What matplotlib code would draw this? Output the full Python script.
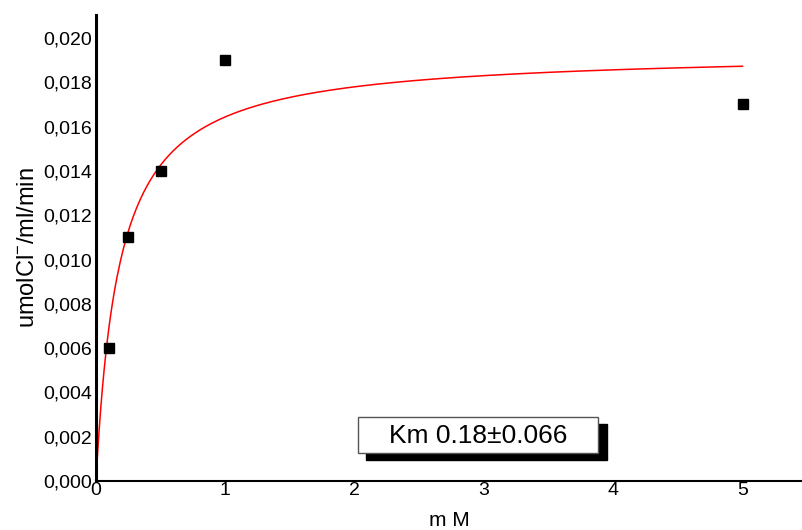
import numpy as np
import matplotlib
matplotlib.use("Agg")
import matplotlib.pyplot as plt
from matplotlib.patches import Rectangle

plt.rcParams['font.family'] = ['Liberation Sans', 'DejaVu Sans']
plt.rcParams['mathtext.fontset'] = 'custom'
plt.rcParams['mathtext.rm'] = 'Liberation Sans'
plt.rcParams['mathtext.default'] = 'regular'

# Data
conc_mM = [0.1, 0.25, 0.5, 1.0, 5.0]
rate = [0.006, 0.011, 0.014, 0.019, 0.017]
vmax = 0.0194
km = 0.18
km_err = 0.066
y_ticks = [0.000, 0.002, 0.004, 0.006, 0.008, 0.010, 0.012, 0.014, 0.016, 0.018, 0.020]
x_ticks = [0, 1, 2, 3, 4, 5]

W, H = 802, 530
fig = plt.figure(figsize=(W / 100, H / 100), dpi=100)
ax = fig.add_axes([96 / W, 1 - 481 / H, (W - 96) / W, (481 - 15) / H])

xc = np.linspace(0, 5, 400)
ax.plot(xc, vmax * xc / (km + xc), color='#ff0000', lw=1.1, zorder=2)
ax.plot(conc_mM, rate, ls='none', marker='s', ms=7.5, color='black', zorder=3)

ax.set_xlim(0, (W - 96) / 129.3)
ax.set_ylim(0, 0.02104)
ax.set_xticks(x_ticks)
ax.set_xticklabels([str(t) for t in x_ticks])
ax.set_yticks(y_ticks)
ax.set_yticklabels([f"{v:.3f}".replace('.', ',') for v in y_ticks])
ax.tick_params(axis='both', length=0, labelsize=14)
ax.tick_params(axis='y', pad=3)
ax.tick_params(axis='x', pad=1)
for s in ['top', 'right']:
    ax.spines[s].set_visible(False)
ax.spines['left'].set_linewidth(2.2)
ax.spines['bottom'].set_linewidth(1.5)

ax.set_xlabel('m M', fontsize=15, labelpad=8)
ax.set_ylabel('umolCl$^{-}$/ml/min', fontsize=17, labelpad=3)

def fr(px, py):
    return px / W, 1 - py / H

# shadow box
x0, y0 = fr(366, 460)
fig.add_artist(Rectangle((x0, y0), (607 - 366) / W, (460 - 424) / H,
                         transform=fig.transFigure, facecolor='black',
                         edgecolor='black', zorder=5))
x0, y0 = fr(358, 453)
fig.add_artist(Rectangle((x0, y0), (598 - 358) / W, (453 - 417) / H,
                         transform=fig.transFigure, facecolor='white',
                         edgecolor='#555555', lw=1.0, zorder=6))
tx, ty = fr(478, 436)
fig.text(tx, ty, f"Km {km}\u00b1{km_err}", ha='center', va='center',
         fontsize=19, zorder=7)

fig.savefig('out.png', dpi=100)
